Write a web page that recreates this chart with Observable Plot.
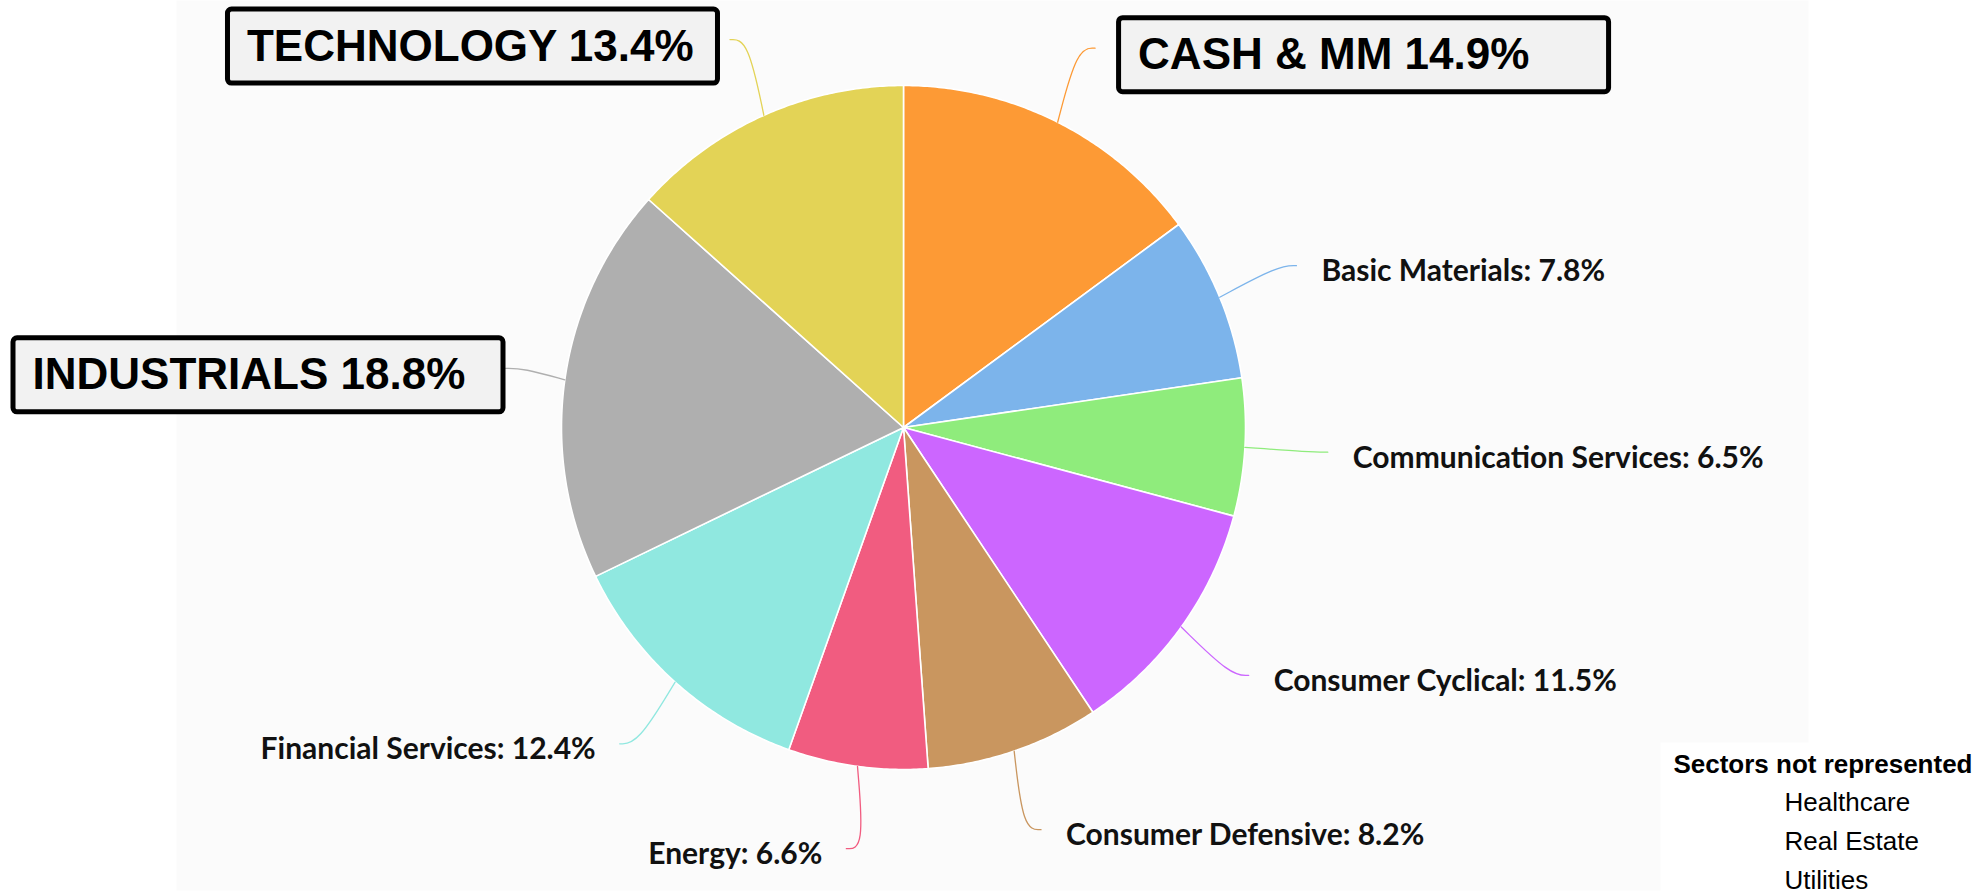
<!DOCTYPE html>
<html>
<head>
<meta charset="utf-8">
<script src="https://cdn.jsdelivr.net/npm/d3@7"></script>
<script src="https://cdn.jsdelivr.net/npm/@observablehq/plot@0.6"></script>
<style>
  html, body { margin: 0; padding: 0; background: #ffffff; }
  #chart svg { display: block; }
</style>
</head>
<body>
<div id="chart"></div>
<script>
// ---------- data ----------
const sectors = ["Cash & MM", "Basic Materials", "Communication Services", "Consumer Cyclical",
  "Consumer Defensive", "Energy", "Financial Services", "Industrials", "Technology"];
const weights = [14.9, 7.8, 6.5, 11.5, 8.2, 6.6, 12.4, 18.8, 13.4];
const sectorColors = ["#fd9a35", "#7cb4eb", "#8fec7c", "#cc66ff", "#c9965f", "#f15c80", "#90e8e0", "#afafaf", "#e3d356"];
const calloutSectors = ["Cash & MM", "Industrials", "Technology"];
const legendTitle = "Sectors not represented";
const missingSectors = ["Healthcare", "Real Estate", "Utilities"];

// ---------- layout ----------
const W = 1986, H = 895;
const CX = 903, CY = 427, R = 342;          // pie centre and radius (px)
const LABEL_R = 425 / R;                     // connector end radius (pie units)
const toX = px => (px - CX) / R;
const toY = py => (CY - py) / R;
const fromX = x => CX + x * R;
const fromY = y => CY - y * R;
const fmt = v => v.toFixed(1) + "%";

const rows = sectors.map((s, i) => ({sector: s, weight: weights[i]}));
const arcs = d3.pie().sort(null).value(d => d.weight)(rows);

// wedge polygons in pie units (y up)
const wedges = arcs.flatMap(a => {
  const n = Math.max(2, Math.ceil((a.endAngle - a.startAngle) / (Math.PI / 360)));
  const pts = [{sector: a.data.sector, x: 0, y: 0}];
  for (let k = 0; k <= n; k++) {
    const t = a.startAngle + (a.endAngle - a.startAngle) * k / n;
    pts.push({sector: a.data.sector, x: Math.sin(t), y: Math.cos(t)});
  }
  return pts;
});

// labels
const BOX_W = 490, BOX_H = 74, BOX_PAD = 19, MARGIN = 13;
const labels = arcs.map(a => {
  const m = (a.startAngle + a.endAngle) / 2;
  const side = Math.sin(m) >= 0 ? 1 : -1;
  const big = calloutSectors.includes(a.data.sector);
  let ax = LABEL_R * Math.sin(m), ay = LABEL_R * Math.cos(m);
  const d = {sector: a.data.sector, weight: a.data.weight, side, big,
    ex: Math.sin(m), ey: Math.cos(m)};
  if (big) {
    let axp = fromX(ax);
    const ayp = fromY(ay);
    let bx1, bx2;
    if (side > 0) { bx1 = axp + 24; bx2 = bx1 + BOX_W; }
    else {
      bx2 = axp - 12; bx1 = bx2 - BOX_W;
      if (bx1 < MARGIN) { bx1 = MARGIN; bx2 = bx1 + BOX_W; axp = bx2 + 2; }
    }
    const cy = ayp + 7;
    ax = toX(axp);
    Object.assign(d, {
      x1: toX(bx1), x2: toX(bx2), y1: toY(cy - BOX_H / 2), y2: toY(cy + BOX_H / 2),
      tx: toX(bx1 + BOX_PAD), ty: toY(cy),
      label: `${a.data.sector.toUpperCase()} ${fmt(a.data.weight)}`
    });
  } else {
    d.label = `${a.data.sector}: ${fmt(a.data.weight)}`;
  }
  d.ax = ax; d.ay = ay;
  return d;
});

const connectors = labels.flatMap(d => [
  {sector: d.sector, x: d.ex, y: d.ey},
  {sector: d.sector, x: d.ax - d.side * 18 / R, y: d.ay},
  {sector: d.sector, x: d.ax, y: d.ay}
]);

const smallRight = labels.filter(d => !d.big && d.side > 0);
const smallLeft = labels.filter(d => !d.big && d.side < 0);
const boxes = labels.filter(d => d.big);

const labelFont = "Lato, 'Open Sans', sans-serif";
const boxFont = "'Liberation Sans', Arial, sans-serif";

const chart = Plot.plot({
  width: W,
  height: H,
  margin: 0,
  style: {background: "#ffffff", overflow: "visible"},
  x: {domain: [toX(0), toX(W)], range: [0, W], axis: null},
  y: {domain: [toY(H), toY(0)], range: [H, 0], axis: null},
  color: {type: "ordinal", domain: sectors, range: sectorColors},
  marks: [
    Plot.frame({fill: "#fbfbfb", stroke: "none", insetLeft: 176, insetRight: 178, insetBottom: 5}),
    Plot.frame({fill: "#ffffff", stroke: "none", insetLeft: 1660, insetTop: 742}),
    Plot.line(wedges, {x: "x", y: "y", z: "sector", fill: "sector", stroke: "#ffffff",
      strokeWidth: 1.6, strokeLinejoin: "round", curve: "linear-closed"}),
    Plot.line(connectors, {x: "x", y: "y", z: "sector", stroke: "sector", strokeWidth: 1.3, curve: "basis"}),
    Plot.text(smallRight, {x: "ax", y: "ay", text: "label", textAnchor: "start", dx: 25, dy: 6,
      fontSize: 30, fontWeight: 700, fontFamily: labelFont, fill: "#111111"}),
    Plot.text(smallLeft, {x: "ax", y: "ay", text: "label", textAnchor: "end", dx: -24, dy: 6,
      fontSize: 30, fontWeight: 700, fontFamily: labelFont, fill: "#111111"}),
    Plot.rect(boxes, {x1: "x1", x2: "x2", y1: "y1", y2: "y2", fill: "#f2f2f2", stroke: "#000000",
      strokeWidth: 5, rx: 4}),
    Plot.text(boxes, {x: "tx", y: "ty", text: "label", textAnchor: "start", fontSize: 44,
      fontWeight: 700, fontFamily: boxFont, fill: "#000000"}),
    Plot.text([legendTitle], {frameAnchor: "bottom-right", textAnchor: "end", lineAnchor: "middle",
      dx: -14, dy: -131, fontSize: 26, fontWeight: 700, fontFamily: boxFont, fill: "#000000"}),
    Plot.text([missingSectors.join("\n")], {frameAnchor: "bottom-right", textAnchor: "start",
      lineAnchor: "middle", lineHeight: 1.49, dx: -202, dy: -58, fontSize: 26,
      fontFamily: boxFont, fill: "#000000"})
  ]
});

document.getElementById("chart").appendChild(chart);
</script>
</body>
</html>
